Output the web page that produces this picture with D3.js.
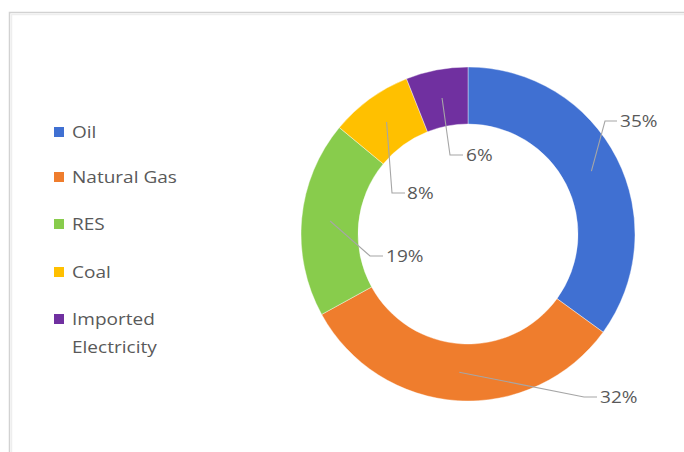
<!DOCTYPE html>
<html>
<head>
<meta charset="utf-8">
<script src="https://cdn.jsdelivr.net/npm/d3@7/dist/d3.min.js"></script>
<style>
  html, body { margin: 0; padding: 0; background: #fff; }
  svg { display: block; }
  text { font-family: "Open Sans", "Noto Sans", sans-serif; fill: #595959; }
</style>
</head>
<body>
<svg id="chart" width="684" height="452"></svg>
<script>
// Energy mix shares (%)
const categories = ["Oil", "Natural Gas", "RES", "Coal", "Imported Electricity"];
const shares = [35, 32, 19, 8, 6];
const colors = ["#4070D2", "#EF7D2D", "#88CC4C", "#FFC000", "#7030A0"];
const legendLines = [["Oil"], ["Natural Gas"], ["RES"], ["Coal"], ["Imported", "Electricity"]];

const W = 684, H = 452;
const svg = d3.select("#chart");

// chart frame
svg.append("path")
  .attr("d", `M${W},12.5 H9.5 V${H}`)
  .attr("fill", "none").attr("stroke", "#d2d2d2").attr("stroke-width", 1.5);
svg.append("path")
  .attr("d", `M${W},14.5 H11.5 V${H}`)
  .attr("fill", "none").attr("stroke", "#eeeeee").attr("stroke-width", 1.5);

// donut
const cx = 468, cy = 234, outerR = 167, innerR = 110;
const pie = d3.pie().sort(null).value(d => d.v);
const arcs = pie(categories.map((c, i) => ({ c, v: shares[i], i })));
const arc = d3.arc().innerRadius(innerR).outerRadius(outerR);
const mid = d3.arc().innerRadius((innerR + outerR) / 2).outerRadius((innerR + outerR) / 2);

const g = svg.append("g").attr("transform", `translate(${cx},${cy})`);
g.selectAll("path.slice").data(arcs).join("path")
  .attr("class", "slice")
  .attr("d", arc)
  .attr("fill", d => colors[d.data.i])
  .attr("stroke", "#fff").attr("stroke-width", 0.4);

// text drawn slightly wide, like the rest of the chart's lettering
function label(parent, x, y, t) {
  return parent.append("text")
    .attr("transform", `translate(${x},${y}) scale(1.12,1)`)
    .attr("dy", "0.36em")
    .attr("font-size", 17)
    .text(t);
}

// data labels with leader lines: elbow point and text anchor for each slice
const labelLayout = [
  { elbow: [605, 121], end: [617, 121], text: [620, 121] },
  { elbow: [584, 397], end: [597, 397], text: [600, 397] },
  { elbow: [370, 256], end: [383, 256], text: [386, 256] },
  { elbow: [392, 193], end: [405, 193], text: [407, 193] },
  { elbow: [450, 155], end: [463, 155], text: [466, 155] }
];

arcs.forEach((d, i) => {
  const [mx, my] = mid.centroid(d);
  const L = labelLayout[i];
  svg.append("polyline")
    .attr("points", [[cx + mx, cy + my], L.elbow, L.end].map(p => p.join(",")).join(" "))
    .attr("fill", "none").attr("stroke", "#a6a6a6").attr("stroke-width", 1.1);
  label(svg, L.text[0], L.text[1], d3.format(".0%")(d.data.v / d3.sum(shares)));
});

// legend
const legendY = [132, 177, 224, 272, 319];
const leg = svg.append("g");
legendLines.forEach((lines, i) => {
  leg.append("rect")
    .attr("x", 54).attr("y", legendY[i] - 5)
    .attr("width", 10).attr("height", 10)
    .attr("fill", colors[i]);
  lines.forEach((t, j) => label(leg, 72, legendY[i] + j * 28, t));
});
</script>
</body>
</html>
